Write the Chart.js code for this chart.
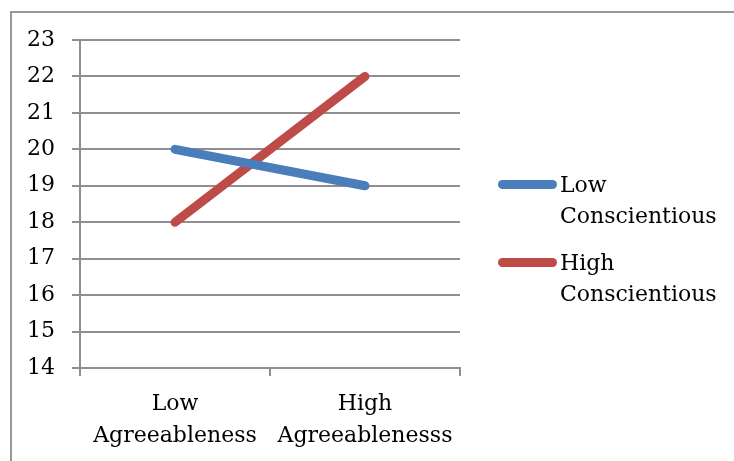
<!DOCTYPE html>
<html>
<head>
<meta charset="utf-8">
<script src="https://cdn.jsdelivr.net/npm/chart.js@4.4.0/dist/chart.umd.min.js"></script>
<style>
  html, body { margin: 0; padding: 0; background: #fff; }
  #wrap { position: relative; width: 734px; height: 461px; overflow: hidden; }
  #frame { position: absolute; left: 10px; top: 11px; right: -10px; bottom: -10px;
           border-top: 2px solid #999; border-left: 2px solid #999; }
  canvas { position: absolute; left: 0; top: 0; }
  #legend { position: absolute; left: 497px; top: 0; font-family: "DejaVu Serif", serif;
            font-size: 22px; color: #000; }
  .item { position: absolute; left: 0; width: 230px; }
  .swatch { position: absolute; left: 1px; width: 59px; height: 9px; border-radius: 5px; }
  .txt { position: absolute; left: 63px; line-height: 31px; white-space: nowrap; }
</style>
</head>
<body>
<div id="wrap">
  <div id="frame"></div>
  <canvas id="c" width="734" height="461"></canvas>
  <div id="legend"></div>
</div>
<script>
const categories = [["Low", "Agreeableness"], ["High", "Agreeablenesss"]];
const seriesNames = [["Low", "Conscientious"], ["High", "Conscientious"]];
const lowConscientious = [20, 19];
const highConscientious = [18, 22];
const seriesColors = ["#4a7ebb", "#be4b48"];
const yMin = 14, yMax = 23, yStep = 1;

const FONT = "DejaVu Serif";
const gridColor = "#8f8f8f";

const chart = new Chart(document.getElementById("c"), {
  type: "line",
  data: {
    labels: categories,
    datasets: [
      { label: seriesNames[0].join(" "), data: lowConscientious, borderColor: seriesColors[0],
        backgroundColor: seriesColors[0], borderWidth: 9, borderCapStyle: "round",
        pointRadius: 0, pointHoverRadius: 0, tension: 0, fill: false },
      { label: seriesNames[1].join(" "), data: highConscientious, borderColor: seriesColors[1],
        backgroundColor: seriesColors[1], borderWidth: 9, borderCapStyle: "round",
        pointRadius: 0, pointHoverRadius: 0, tension: 0, fill: false }
    ]
  },
  options: {
    responsive: false,
    animation: false,
    devicePixelRatio: 1,
    layout: { padding: { left: 0, right: 274, top: 40, bottom: 0 } },
    plugins: { legend: { display: false }, tooltip: { enabled: false } },
    scales: {
      x: {
        type: "category",
        offset: true,
        grid: { offset: true, drawOnChartArea: false, drawTicks: true, tickLength: 8,
                color: gridColor, lineWidth: 2 },
        border: { display: true, color: gridColor, width: 2 },
        ticks: { color: "#000", padding: 12, maxRotation: 0, autoSkip: false,
                 font: { family: FONT, size: 22, lineHeight: "32px" } },
        afterFit: s => { s.height = 93; }
      },
      y: {
        min: yMin, max: yMax,
        grid: { drawTicks: true, tickLength: 8, color: gridColor, lineWidth: 2 },
        border: { display: true, color: gridColor, width: 2 },
        ticks: { stepSize: yStep, color: "#000", padding: 17,
                 font: { family: FONT, size: 22 } },
        afterFit: s => { s.width = 80; }
      }
    }
  }
});

// HTML legend built from the dataset names / colours
const legend = document.getElementById("legend");
const itemTops = [169, 247];
seriesNames.forEach((lines, i) => {
  const it = document.createElement("div");
  it.className = "item";
  it.style.top = itemTops[i] + "px";
  const sw = document.createElement("div");
  sw.className = "swatch";
  sw.style.background = seriesColors[i];
  sw.style.top = (15.5 - 4.5) + "px";
  const tx = document.createElement("div");
  tx.className = "txt";
  tx.innerHTML = lines.join("<br>");
  it.appendChild(sw);
  it.appendChild(tx);
  legend.appendChild(it);
});
</script>
</body>
</html>
